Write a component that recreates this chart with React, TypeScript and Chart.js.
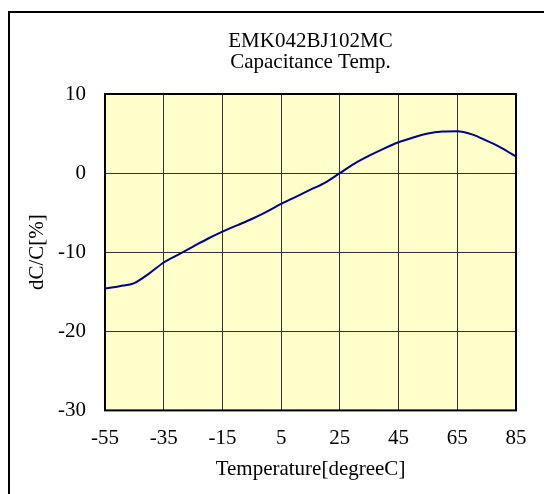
import React, { useEffect, useRef } from "react";
import { Chart, registerables } from "chart.js";

Chart.register(...registerables);

const titleLines = ["EMK042BJ102MC", "Capacitance Temp."];
const xAxisTitle = "Temperature[degreeC]";
const yAxisTitle = "dC/C[%]";
const xTicks = [-55, -35, -15, 5, 25, 45, 65, 85];
const yTicks = [-30, -20, -10, 0, 10];
const temperatures = [-55, -50, -45, -40, -35, -30, -25, -20, -15, -10, -5, 0, 5, 10, 15, 20, 25, 30, 35, 40, 45, 50, 55, 60, 65, 70, 75, 80, 85];
const dcValues = [-14.6, -14.3, -13.9, -12.7, -11.3, -10.3, -9.3, -8.3, -7.4, -6.6, -5.8, -4.9, -3.9, -3.0, -2.1, -1.2, 0.0, 1.2, 2.2, 3.1, 3.9, 4.5, 5.0, 5.25, 5.3, 4.9, 4.1, 3.2, 2.1];

const FONT = "'Liberation Serif', 'Times New Roman', serif";
const FS = 21;

export default function App() {
  const ref = useRef<HTMLCanvasElement | null>(null);
  useEffect(() => {
    if (!ref.current) return;
    const areaPlugin = {
      id: "areaPlugin",
      beforeDraw(chart: any) {
        const { ctx, chartArea: a } = chart;
        ctx.save();
        ctx.fillStyle = "#FFFFCC";
        ctx.fillRect(a.left, a.top, a.right - a.left, a.bottom - a.top);
        ctx.restore();
      },
      afterDraw(chart: any) {
        const { ctx, chartArea: a } = chart;
        ctx.save();
        ctx.strokeStyle = "#000";
        ctx.lineWidth = 2;
        ctx.strokeRect(a.left, a.top, a.right - a.left, a.bottom - a.top);
        ctx.restore();
      },
    };
    const chart = new Chart(ref.current, {
      type: "line",
      data: {
        datasets: [
          {
            data: temperatures.map((t, i) => ({ x: t, y: dcValues[i] })),
            borderColor: "#000080",
            borderWidth: 2,
            pointRadius: 0,
            cubicInterpolationMode: "monotone",
            fill: false,
          },
        ],
      },
      options: {
        responsive: false,
        animation: false,
        layout: { padding: { left: 8, right: 28, top: 0, bottom: 12 } },
        plugins: {
          legend: { display: false },
          tooltip: { enabled: false },
          title: {
            display: true,
            text: titleLines,
            color: "#000",
            fullSize: false,
            font: { family: FONT, size: FS, weight: "normal", lineHeight: 1.0 },
            padding: { top: 31, bottom: 21 },
          },
        },
        scales: {
          x: {
            type: "linear",
            min: -55,
            max: 85,
            afterBuildTicks: (s: any) => {
              s.ticks = xTicks.map((v) => ({ value: v }));
            },
            afterFit: (s: any) => {
              s.height = 71.6;
            },
            grid: { color: "#333", lineWidth: 1, drawTicks: false },
            border: { display: false },
            ticks: {
              color: "#000",
              padding: 15.4,
              autoSkip: false,
              maxRotation: 0,
              font: { family: FONT, size: FS },
            },
            title: {
              display: true,
              text: xAxisTitle,
              color: "#000",
              padding: { top: 0, bottom: 0 },
              font: { family: FONT, size: FS },
            },
          },
          y: {
            type: "linear",
            min: -30,
            max: 10,
            afterBuildTicks: (s: any) => {
              s.ticks = yTicks.map((v) => ({ value: v }));
            },
            afterFit: (s: any) => {
              s.width = 97;
            },
            grid: { color: "#333", lineWidth: 1, drawTicks: false },
            border: { display: false },
            ticks: {
              color: "#000",
              padding: 19,
              font: { family: FONT, size: FS },
            },
            title: {
              display: true,
              text: yAxisTitle,
              color: "#000",
              padding: { top: 16.4, bottom: 0 },
              font: { family: FONT, size: FS },
            },
          },
        },
      },
      plugins: [areaPlugin],
    } as any);
    return () => chart.destroy();
  }, []);
  return (
    <div>
      <canvas
        ref={ref}
        width={544}
        height={494}
        style={{ position: "fixed", left: 0, top: 0, width: 544, height: 494 }}
      />
      <div
        style={{
          position: "fixed",
          left: 8,
          top: 11,
          width: 700,
          height: 700,
          border: "2px solid #000",
          pointerEvents: "none",
        }}
      />
    </div>
  );
}
